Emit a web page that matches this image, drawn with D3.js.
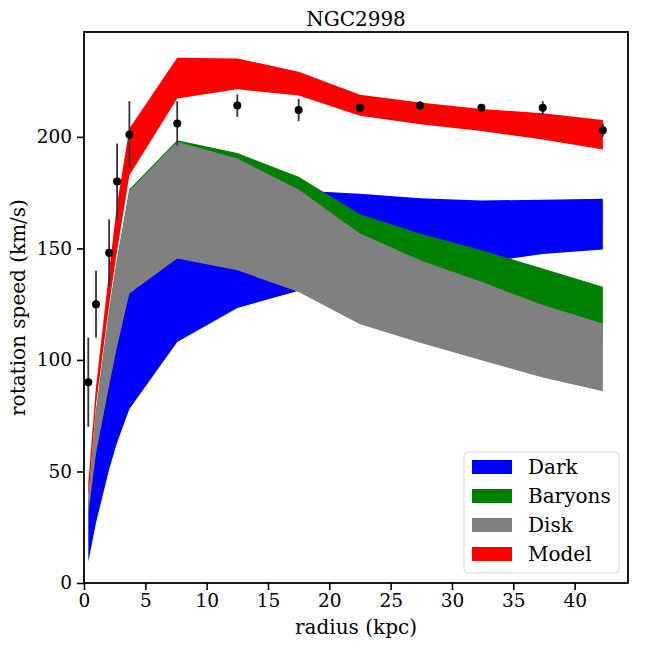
<!DOCTYPE html>
<html>
<head>
<meta charset="utf-8">
<script src="https://cdn.jsdelivr.net/npm/d3@7"></script>
<style>
  html, body { margin: 0; padding: 0; background: #fff; }
  svg { display: block; }
  text { font-family: "DejaVu Serif", serif; fill: #000; }
</style>
</head>
<body>
<svg id="chart" width="648" height="648"></svg>
<script>
// ---- data ----
const radius = [0.35, 0.98, 2.05, 2.7, 3.7, 7.6, 12.5, 17.5, 22.5, 27.4, 32.4, 37.4, 42.3];
const observed = [90, 125, 148, 180, 201, 206, 214, 212, 213, 214, 213, 213, 203];
const observedErr = [20, 15, 15, 17, 15, 10, 5, 5, 2, 2, 1.5, 3, 3];

const darkLow   = [9.5, 27, 51, 63, 78, 108, 123.3, 131, 135, 139.5, 143.5, 147.5, 149.5];
const darkHigh  = [33, 62, 95, 115, 140, 162, 172, 176, 174.5, 172.5, 171.5, 171.8, 172.3];
const baryonLow = [31.5, 60, 92, 110, 133, 150, 148, 132.8, 126.8, 121.5, 116.5, 111.5, 107.4];
const baryonHigh= [36.3, 77.3, 122.3, 145.3, 176.5, 198.5, 192.8, 182.1, 165.3, 156.7, 149.2, 141, 132.8];
const diskLow   = [31, 58, 88.5, 106, 129.8, 145.5, 140.2, 130.5, 116, 107.7, 99.9, 92.1, 86];
const diskHigh  = [36, 77, 122, 145, 175.8, 197.8, 190.3, 176.4, 156.7, 144.7, 135, 124.6, 116.3];
const modelLow  = [37, 80, 125, 149, 182.8, 217.2, 221.3, 218.5, 209.5, 205.6, 202.6, 198.8, 194.3];
const modelHigh = [45, 88, 140, 170, 203.7, 235.5, 235.1, 229.2, 218.9, 215.4, 212.5, 210.6, 207.5];

const seriesNames = ["Dark", "Baryons", "Disk", "Model"];
const seriesColors = ["#0000ff", "#008000", "#808080", "#ff0000"];
const xTicks = [0, 5, 10, 15, 20, 25, 30, 35, 40];
const yTicks = [0, 50, 100, 150, 200];
const titleText = "NGC2998";
const xLabel = "radius (kpc)";
const yLabel = "rotation speed (km/s)";

// ---- layout ----
const L = 84, R = 628, T = 32, B = 583;
const svg = d3.select("#chart");

const x = d3.scaleLinear().domain([0, 44.35]).range([L, R]);
const y = d3.scaleLinear().domain([0, 247]).range([B, T]);

svg.append("defs").append("clipPath").attr("id", "clip")
  .append("rect").attr("x", L).attr("y", T).attr("width", R - L).attr("height", B - T);

const plot = svg.append("g").attr("clip-path", "url(#clip)");

const bands = [
  [darkLow, darkHigh],
  [baryonLow, baryonHigh],
  [diskLow, diskHigh],
  [modelLow, modelHigh]
];

const area = d3.area()
  .x(d => x(d.r))
  .y0(d => y(d.lo))
  .y1(d => y(d.hi));

bands.forEach((b, i) => {
  const pts = radius.map((r, k) => ({ r: r, lo: b[0][k], hi: b[1][k] }));
  plot.append("path")
    .datum(pts)
    .attr("d", area)
    .attr("fill", seriesColors[i])
    .attr("stroke", "none");
});

// error bars
const obs = radius.map((r, k) => ({ r: r, v: observed[k], e: observedErr[k] }));
plot.selectAll("line.err").data(obs).enter().append("line")
  .attr("class", "err")
  .attr("x1", d => x(d.r)).attr("x2", d => x(d.r))
  .attr("y1", d => y(d.v - d.e)).attr("y2", d => y(d.v + d.e))
  .attr("stroke", "#333").attr("stroke-width", 1.8);

plot.selectAll("circle.pt").data(obs).enter().append("circle")
  .attr("class", "pt")
  .attr("cx", d => x(d.r)).attr("cy", d => y(d.v))
  .attr("r", 4).attr("fill", "#000");

// axes
const xAxis = d3.axisBottom(x).tickValues(xTicks).tickFormat(d3.format("d")).tickSize(7).tickPadding(4);
const yAxis = d3.axisLeft(y).tickValues(yTicks).tickFormat(d3.format("d")).tickSize(7).tickPadding(5);

const gx = svg.append("g").attr("transform", `translate(0,${B})`).call(xAxis);
const gy = svg.append("g").attr("transform", `translate(${L},0)`).call(yAxis);
[gx, gy].forEach(g => {
  g.select(".domain").remove();
  g.selectAll(".tick line").attr("stroke", "#000").attr("stroke-width", 1.6);
  g.selectAll(".tick text").attr("font-family", "DejaVu Serif").attr("font-size", 18.5).attr("fill", "#000");
});

// frame
svg.append("rect").attr("x", L).attr("y", T).attr("width", R - L).attr("height", B - T)
  .attr("fill", "none").attr("stroke", "#000").attr("stroke-width", 1.8);

// title and labels
svg.append("text").attr("x", (L + R) / 2).attr("y", 26).attr("text-anchor", "middle")
  .attr("font-size", 20).text(titleText);
svg.append("text").attr("x", (L + R) / 2).attr("y", 634).attr("text-anchor", "middle")
  .attr("font-size", 20).text(xLabel);
svg.append("text").attr("transform", `translate(25,${(T + B) / 2}) rotate(-90)`)
  .attr("text-anchor", "middle").attr("font-size", 20).text(yLabel);

// legend
const lg = svg.append("g");
lg.append("rect").attr("x", 464).attr("y", 452).attr("width", 155).attr("height", 121)
  .attr("rx", 4).attr("fill", "#fff").attr("fill-opacity", 0.8)
  .attr("stroke", "#d6d6d6").attr("stroke-width", 1);
seriesNames.forEach((name, i) => {
  const cy = 467 + i * 29;
  lg.append("rect").attr("x", 472).attr("y", cy - 7).attr("width", 40).attr("height", 14)
    .attr("fill", seriesColors[i]);
  lg.append("text").attr("x", 528).attr("y", cy + 6.5).attr("font-size", 20).text(name);
});
</script>
</body>
</html>
